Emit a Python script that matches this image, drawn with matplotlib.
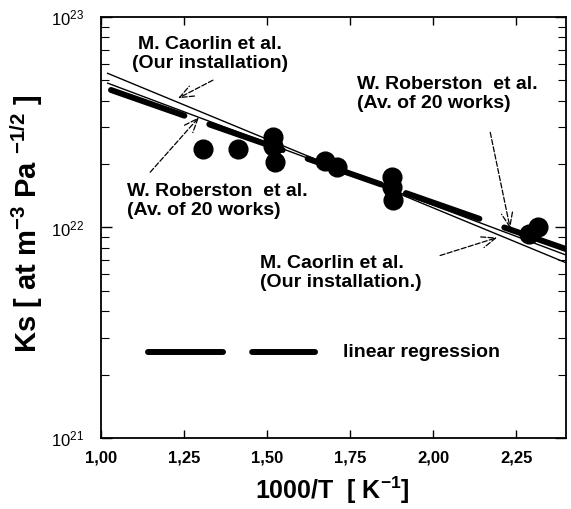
import math
import matplotlib
matplotlib.use("Agg")
import matplotlib.pyplot as plt
from matplotlib.ticker import LogLocator, FuncFormatter, FixedLocator, NullFormatter

plt.rcParams['font.family'] = ['Liberation Sans', 'DejaVu Sans']
plt.rcParams['mathtext.fontset'] = 'custom'
plt.rcParams['mathtext.rm'] = 'Liberation Sans'
plt.rcParams['mathtext.bf'] = 'Liberation Sans:bold'
plt.rcParams['lines.scale_dashes'] = False

# ---- data ----
pts_x = [1.307, 1.413, 1.518, 1.518, 1.524, 1.675, 1.711, 1.877, 1.877, 1.880, 2.290, 2.316]
pts_y = [2.35e22, 2.35e22, 2.68e22, 2.45e22, 2.04e22, 2.08e22, 1.93e22, 1.73e22, 1.55e22, 1.35e22, 9.3e21, 1.0e22]

caorlin_x = [1.02, 2.40]
caorlin_y = [5.4e22, 6.8e21]
roberston_x = [1.02, 2.40]
roberston_y = [4.85e22, 7.4e21]
regression_x = [1.03, 2.40]
regression_y = [4.5e22, 7.9e21]

xticks = [1.00, 1.25, 1.50, 1.75, 2.00, 2.25]
xticklabels = ["1,00", "1,25", "1,50", "1,75", "2,00", "2,25"]

fig = plt.figure(figsize=(5.71, 5.09), dpi=100)
ax = fig.add_axes([0.1769, 0.1395, 0.9912 - 0.1769, 0.9666 - 0.1395])

ax.set_yscale('log')
ax.set_xlim(1.0, 2.4)
ax.set_ylim(1e21, 1e23)

dash = (56, 19)
ax.plot(caorlin_x, caorlin_y, color='black', lw=1.0, zorder=2)
ax.plot(roberston_x, roberston_y, color='black', lw=1.0, zorder=2)
ax.plot(regression_x, regression_y, color='black', lw=4.3, dashes=dash,
        dash_capstyle='round', solid_capstyle='round', zorder=3)
ax.plot(pts_x, pts_y, 'o', color='black', markersize=13.5, zorder=4)

# legend sample
ax.plot([0.101, 0.460], [0.204, 0.204], transform=ax.transAxes, color='black',
        lw=4.3, dashes=(54, 21), dash_capstyle='round', clip_on=False)
ax.text(0.520, 0.204, "linear regression", transform=ax.transAxes, fontsize=14,
        fontweight='bold', ha='left', va='center')

# annotations
tkw = dict(fontsize=14, fontweight='bold', transform=ax.transAxes, linespacing=1.1)
ax.text(0.234, 0.912, "M. Caorlin et al.\n(Our installation)", ha='center', va='center',
        multialignment='center', **tkw)
ax.text(0.056, 0.563, "W. Roberston  et al.\n(Av. of 20 works)", ha='left', va='center', **tkw)
ax.text(0.551, 0.817, "W. Roberston  et al.\n(Av. of 20 works)", ha='left', va='center', **tkw)
ax.text(0.342, 0.392, "M. Caorlin et al.\n(Our installation.)", ha='left', va='center', **tkw)

akw = dict(arrowstyle='->,head_length=1.0,head_width=0.4', linestyle='--', lw=0.9,
           color='black', shrinkA=0, shrinkB=0)
ax.annotate("", xy=(1.232, 4.11e22), xytext=(1.337, 5.01e22), arrowprops=akw)
ax.annotate("", xy=(1.295, 3.34e22), xytext=(1.148, 1.83e22), arrowprops=akw)
ax.annotate("", xy=(2.232, 9.9e21), xytext=(2.172, 2.83e22), arrowprops=akw)
ax.annotate("", xy=(2.193, 8.96e21), xytext=(2.021, 7.36e21), arrowprops=akw)

# ticks
ax.xaxis.set_major_locator(FixedLocator(xticks))
ax.set_xticklabels(xticklabels, fontsize=12, fontweight='bold')
ax.tick_params(axis='x', which='major', direction='in', length=6, width=1.0,
               top=True, pad=9)
ax.yaxis.set_major_locator(LogLocator(base=10, numticks=5))
ax.yaxis.set_minor_locator(LogLocator(base=10, subs=range(2, 10), numticks=20))
ax.yaxis.set_minor_formatter(NullFormatter())
ax.yaxis.set_major_formatter(FuncFormatter(lambda v, p: r'$\mathregular{10^{%d}}$' % round(math.log10(v))))
ax.tick_params(axis='y', which='major', direction='in', length=8, width=1.0,
               right=True, labelsize=12, pad=12)
ax.tick_params(axis='y', which='minor', direction='in', length=6, width=0.8, right=True)

for s in ax.spines.values():
    s.set_linewidth(1.3)

fig.text(27 / 571, 1 - 224 / 509, r"Ks [ at m$^{\mathbf{-3}}$ Pa $^{\mathbf{-1/2}}$ ]",
         rotation=90, fontsize=21, fontweight='bold', ha='center', va='center')
fig.text(332 / 571, 1 - 490 / 509, r"1000/T  [ K$^{\mathbf{-1}}$]",
         fontsize=18, fontweight='bold', ha='center', va='center')

fig.savefig("out.png", dpi=100)
